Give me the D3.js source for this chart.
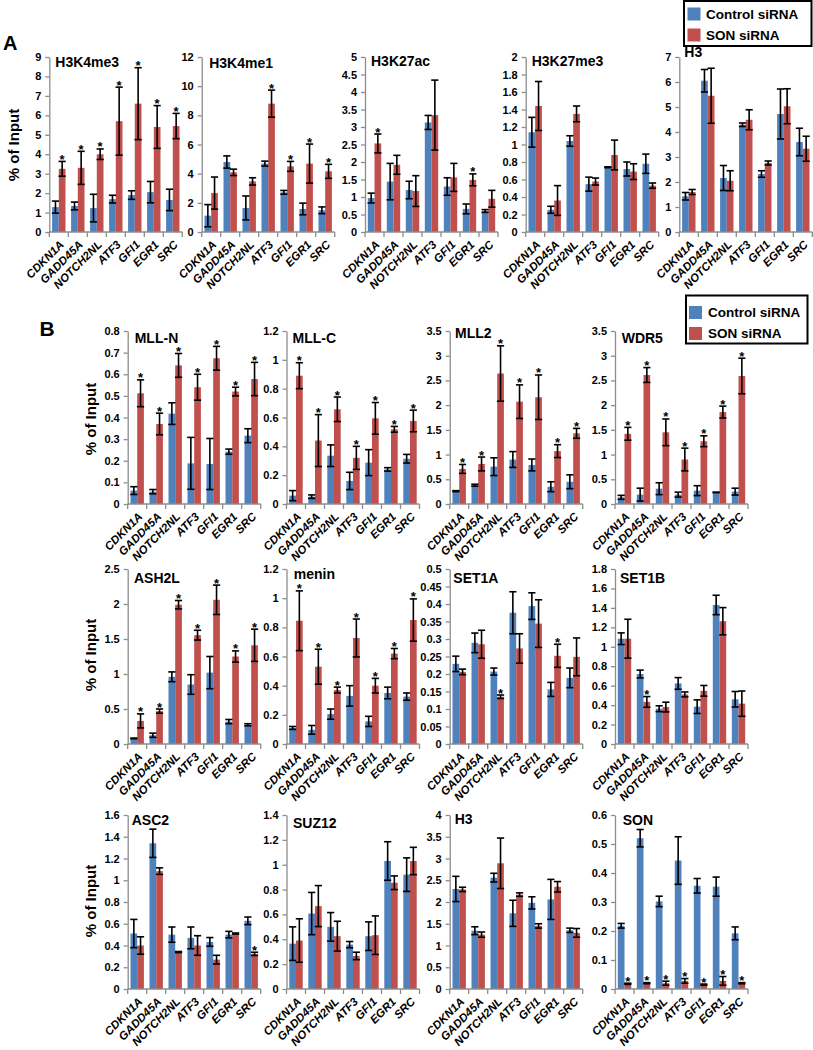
<!DOCTYPE html>
<html><head><meta charset="utf-8">
<script src="https://cdn.jsdelivr.net/npm/d3@7"></script>
<style>
body{margin:0;background:#fff}
svg{display:block;font-family:"Liberation Sans",Arial,sans-serif}
</style></head><body>
<svg id="c" width="813" height="1050"></svg>
<script>
// ---------------- DATA ----------------
const genes = ["CDKN1A","GADD45A","NOTCH2NL","ATF3","GFI1","EGR1","SRC"];
const seriesNames = ["Control siRNA","SON siRNA"];
const panelNames = ["H3K4me3","H3K4me1","H3K27ac","H3K27me3","H3",
  "MLL-N","MLL-C","MLL2","WDR5",
  "ASH2L","menin","SET1A","SET1B",
  "ASC2","SUZ12","H3","SON"];
const yMax  = [9,12,5,2,7, 0.8,1.2,3.5,3.5, 2.5,1.2,0.5,1.8, 1.6,1.4,4,0.6];
const yStep = [1,2,0.5,0.2,1, 0.1,0.2,0.5,0.5, 0.5,0.2,0.05,0.2, 0.2,0.2,0.5,0.1];
const yLabel = "% of Input";

const control = [
  [1.28,1.34,1.23,1.69,1.9,2.05,1.65],
  [1.12,4.8,1.65,4.69,2.72,1.58,1.49],
  [0.97,1.44,1.2,3.13,1.3,0.66,0.6],
  [1.14,0.254,1.04,0.547,0.74,0.72,0.78],
  [1.43,6.05,2.16,4.29,2.32,4.72,3.6],
  [0.062,0.057,0.418,0.188,0.185,0.242,0.316],
  [0.058,0.051,0.335,0.16,0.287,0.24,0.314],
  [0.26,0.38,0.755,0.9,0.79,0.35,0.45],
  [0.135,0.19,0.31,0.19,0.27,0.235,0.25],
  [0.08,0.125,0.96,0.85,1.02,0.32,0.275],
  [0.11,0.097,0.205,0.33,0.155,0.35,0.325],
  [0.229,0.289,0.207,0.375,0.394,0.156,0.189],
  [1.083,0.72,0.363,0.623,0.384,1.43,0.46],
  [0.51,1.34,0.5,0.47,0.433,0.5,0.627],
  [0.365,0.607,0.5,0.357,0.425,1.03,0.92],
  [2.3,1.34,2.56,1.74,1.98,2.06,1.35],
  [0.218,0.52,0.302,0.443,0.356,0.353,0.192]
];
const controlErr = [
  [0.31,0.2,0.71,0.2,0.22,0.55,0.55],
  [0.76,0.42,0.82,0.17,0.13,0.4,0.23],
  [0.14,0.52,0.25,0.2,0.25,0.14,0.04],
  [0.17,0.04,0.06,0.08,0.005,0.08,0.11],
  [0.15,0.45,0.5,0.07,0.13,1.0,0.55],
  [0.018,0.01,0.05,0.12,0.118,0.012,0.032],
  [0.035,0.012,0.075,0.06,0.09,0.012,0.03],
  [0.01,0.02,0.18,0.16,0.12,0.1,0.14],
  [0.04,0.13,0.12,0.05,0.1,0.005,0.07],
  [0.005,0.03,0.07,0.14,0.23,0.03,0.015],
  [0.01,0.03,0.035,0.07,0.035,0.04,0.025],
  [0.022,0.028,0.01,0.06,0.038,0.02,0.028],
  [0.06,0.04,0.03,0.06,0.07,0.1,0.08],
  [0.13,0.13,0.07,0.1,0.04,0.03,0.035],
  [0.135,0.17,0.115,0.025,0.115,0.155,0.135],
  [0.29,0.09,0.1,0.3,0.14,0.46,0.05],
  [0.008,0.03,0.018,0.082,0.025,0.033,0.022]
];
const son = [
  [3.25,3.3,4.0,5.7,6.6,5.4,5.45],
  [2.67,4.09,3.47,8.8,4.5,4.69,4.16],
  [2.53,1.92,1.17,3.34,1.56,1.49,0.95],
  [1.44,0.36,1.35,0.577,0.88,0.69,0.53],
  [1.6,5.45,2.05,4.49,2.76,5.03,3.33],
  [0.512,0.37,0.641,0.54,0.674,0.52,0.578],
  [0.89,0.44,0.657,0.32,0.594,0.518,0.576],
  [0.71,0.81,2.64,2.07,2.16,1.07,1.43],
  [1.42,2.61,1.45,0.9,1.27,1.86,2.59],
  [0.33,0.47,1.99,1.555,2.06,1.25,1.41],
  [0.845,0.53,0.37,0.727,0.4,0.62,0.85],
  [0.206,0.285,0.135,0.273,0.344,0.252,0.249],
  [1.083,0.433,0.38,0.51,0.547,1.263,0.415],
  [0.4,1.084,0.34,0.4,0.27,0.51,0.323],
  [0.39,0.667,0.425,0.266,0.433,0.855,1.03],
  [2.29,1.25,2.89,2.17,1.45,2.35,1.29],
  [0.018,0.02,0.02,0.028,0.015,0.028,0.02]
];
const sonErr = [
  [0.38,0.85,0.27,1.75,1.85,1.1,0.65],
  [1.1,0.22,0.25,0.93,0.34,1.34,0.48],
  [0.27,0.27,0.44,1.0,0.4,0.17,0.24],
  [0.28,0.17,0.09,0.04,0.17,0.09,0.03],
  [0.1,1.1,0.4,0.4,0.08,0.7,0.5],
  [0.062,0.05,0.055,0.06,0.055,0.02,0.077],
  [0.09,0.18,0.085,0.08,0.11,0.02,0.075],
  [0.09,0.14,0.56,0.34,0.45,0.13,0.1],
  [0.13,0.15,0.27,0.23,0.11,0.12,0.36],
  [0.1,0.03,0.06,0.07,0.21,0.08,0.23],
  [0.205,0.12,0.02,0.13,0.05,0.035,0.145],
  [0.008,0.04,0.005,0.042,0.068,0.033,0.054],
  [0.2,0.055,0.05,0.025,0.055,0.14,0.13],
  [0.08,0.03,0.005,0.09,0.04,0.005,0.015],
  [0.175,0.165,0.12,0.03,0.155,0.055,0.11],
  [0.05,0.06,0.58,0.04,0.05,0.12,0.1],
  [0.002,0.002,0.007,0.008,0.002,0.015,0.002]
];
const stars = [
  [1,1,1,1,1,1,1],
  [0,0,0,1,1,1,1],
  [1,0,0,0,0,1,0],
  [0,0,0,0,0,0,0],
  [0,0,0,0,0,0,0],
  [1,1,1,1,1,1,1],
  [1,1,1,1,1,1,1],
  [1,1,1,1,1,1,1],
  [1,1,1,1,1,1,1],
  [1,1,1,1,1,1,1],
  [1,1,1,1,1,1,1],
  [0,0,1,0,0,1,0],
  [0,1,0,0,0,0,0],
  [0,0,0,0,0,0,1],
  [0,0,0,0,0,0,0],
  [0,0,0,0,0,0,0],
  [1,1,1,1,1,1,1]
];

// ---------------- LAYOUT ----------------
const colors = ["#4F81BD","#C0504D"];
const W = 133;
const rows = [
  {top:57,  bottom:232, xs:[49.3,201.7,365,525.7,679.3], panels:[0,1,2,3,4], ylabX:19, ylabY:145},
  {top:331, bottom:504, xs:[127.7,286.5,449.7,615], panels:[5,6,7,8], ylabX:96, ylabY:419},
  {top:569, bottom:744, xs:[127.7,286.5,449.7,615], panels:[9,10,11,12], ylabX:96, ylabY:655},
  {top:815, bottom:989, xs:[127.7,286.5,449.7,615], panels:[13,14,15,16], ylabX:96, ylabY:901}
];
const titleOff = [[6,10],[7.5,11],[6,9],[6,9],[5,0],
  [7,12],[6,12],[5.3,7],[6.7,12],
  [6.3,14],[7.3,10],[3.6,14],[5,14],
  [4,10],[6.5,13],[5,9],[7.7,10]];

const svg = d3.select("#c");
const axisColor = "#8c8c8c";

rows.forEach(row => {
  row.panels.forEach((pi, k) => {
    const x = row.xs[k];
    const g = svg.append("g").attr("transform", `translate(${x},0)`);
    const y = d3.scaleLinear().domain([0, yMax[pi]]).range([row.bottom, row.top]);
    const x0 = d3.scaleBand().domain(genes).range([0, W]);
    const x1 = d3.scaleBand().domain([0,1]).range([0, x0.bandwidth()]).paddingOuter(0.42);
    const nT = Math.round(yMax[pi] / yStep[pi]);
    const ticks = d3.range(0, nT + 1).map(t => +(t * yStep[pi]).toFixed(4));

    const data = [];
    genes.forEach((gn, gi) => {
      [control, son].forEach((arr, si) => {
        data.push({g: gn, s: si, v: arr[pi][gi], e: (si ? sonErr : controlErr)[pi][gi],
                   star: si === 1 && stars[pi][gi] === 1});
      });
    });

    // title (drawn first so marks sit above it)
    g.append("text").attr("x", titleOff[pi][0]).attr("y", row.top + titleOff[pi][1])
      .attr("font-size", 14).attr("font-weight", "bold").text(panelNames[pi]);

    // bars
    g.selectAll("rect.bar").data(data).enter().append("rect")
      .attr("x", d => x0(d.g) + x1(d.s))
      .attr("width", x1.bandwidth())
      .attr("y", d => y(d.v))
      .attr("height", d => y(0) - y(d.v))
      .attr("fill", d => colors[d.s]);

    // y axis
    const ya = g.append("g").call(d3.axisLeft(y).tickValues(ticks).tickSize(4).tickSizeOuter(0)
      .tickPadding(4).tickFormat(d => String(d)));
    ya.select(".domain").attr("stroke", axisColor).attr("stroke-width", 1.3);
    ya.selectAll(".tick line").attr("stroke", axisColor).attr("stroke-width", 1.3);
    ya.selectAll(".tick text").attr("fill", "#000").attr("font-size", 11).attr("font-weight", "bold")
      .attr("font-family", "'Liberation Sans',Arial,sans-serif");

    // x axis
    g.append("line").attr("x1", 0).attr("x2", W).attr("y1", y(0)).attr("y2", y(0))
      .attr("stroke", axisColor).attr("stroke-width", 1.3);
    const bounds = genes.map(gn => x0(gn)).concat([W]);
    g.selectAll("line.xt").data(bounds).enter().append("line")
      .attr("x1", d => d).attr("x2", d => d).attr("y1", y(0)).attr("y2", y(0) + 5)
      .attr("stroke", axisColor).attr("stroke-width", 1.3);
    g.selectAll("text.xl").data(genes).enter().append("text")
      .attr("transform", d => `translate(${x0(d) + x0.bandwidth()/2 + 3},${y(0) + 10.5}) rotate(-45)`)
      .attr("text-anchor", "end").attr("dy", "0.35em")
      .attr("font-size", 11.5).attr("font-weight", "bold").attr("font-style", "italic")
      .text(d => d);

    // error bars
    const cx = d => x0(d.g) + x1(d.s) + x1.bandwidth()/2;
    const cap = 3.6;
    const eb = g.selectAll("g.eb").data(data).enter().append("g")
      .attr("stroke", "#000").attr("stroke-width", 1.6);
    eb.append("line").attr("x1", cx).attr("x2", cx)
      .attr("y1", d => y(d.v + d.e)).attr("y2", d => y(Math.max(0, d.v - d.e)));
    eb.append("line").attr("x1", d => cx(d) - cap).attr("x2", d => cx(d) + cap)
      .attr("y1", d => y(d.v + d.e)).attr("y2", d => y(d.v + d.e));
    eb.append("line").attr("x1", d => cx(d) - cap).attr("x2", d => cx(d) + cap)
      .attr("y1", d => y(Math.max(0, d.v - d.e))).attr("y2", d => y(Math.max(0, d.v - d.e)));

    // stars
    g.selectAll("text.st").data(data.filter(d => d.star)).enter().append("text")
      .attr("x", cx).attr("y", d => y(d.v + d.e) + 2.5)
      .attr("text-anchor", "middle").attr("font-size", 13).attr("font-weight", "bold")
      .text("*");
  });
  // y label
  svg.append("text").attr("transform", `translate(${row.ylabX},${row.ylabY}) rotate(-90)`)
    .attr("text-anchor", "middle").attr("font-size", 15).attr("font-weight", "bold").text(yLabel);
});

// section letters
svg.append("text").attr("x", 3).attr("y", 49.5).attr("font-size", 20).attr("font-weight", "bold").text("A");
svg.append("text").attr("x", 39.5).attr("y", 336).attr("font-size", 21).attr("font-weight", "bold").text("B");

// legends
function legend(x, y, w, h, sqX, sqY, txX, txY) {
  svg.append("rect").attr("x", x).attr("y", y).attr("width", w).attr("height", h)
    .attr("fill", "#fff").attr("stroke", "#000").attr("stroke-width", 2);
  seriesNames.forEach((s, i) => {
    svg.append("rect").attr("x", sqX).attr("y", sqY + i*21).attr("width", 13).attr("height", 13)
      .attr("fill", colors[i]);
    svg.append("text").attr("x", txX).attr("y", txY + i*21).attr("font-size", 13.5)
      .attr("font-weight", "bold").text(s);
  });
}
legend(684, 1, 127.5, 45, 687.5, 7.5, 706, 18.5);
legend(686, 295.5, 121.5, 48, 689, 306, 708, 317);
</script>
</body></html>
